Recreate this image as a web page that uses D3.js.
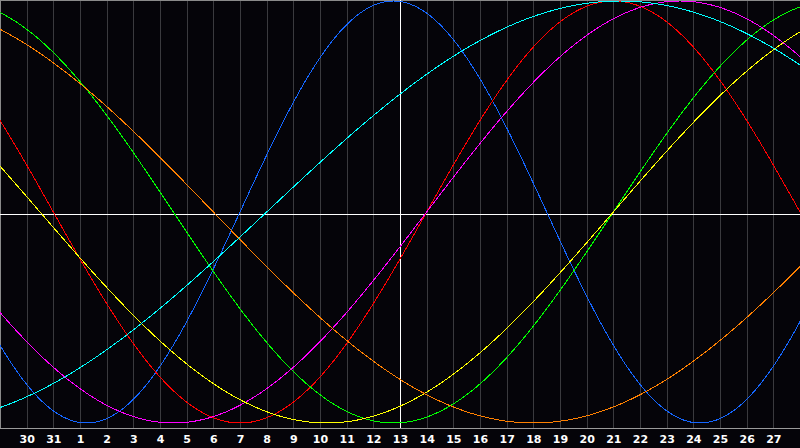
<!DOCTYPE html>
<html><head><meta charset="utf-8">
<script src="https://cdn.jsdelivr.net/npm/d3@7"></script>
<style>html,body{margin:0;padding:0;background:#050409;overflow:hidden}</style>
</head><body>
<script>
// Day labels along the bottom axis (day index 1..29)
const dayLabels = ["30","31","1","2","3","4","5","6","7","8","9","10","11","12","13","14","15","16","17","18","19","20","21","22","23","24","25","26","27"];
const todayIndex = 15; // label "13"
// Biorhythm cycles: names, periods (days), upward zero-crossing day index
const cycleNames   = ["Physical","Emotional","Intellectual","Intuitive","Aesthetic","Awareness","Spiritual"];
const cyclePeriods = [23, 28, 33, 38, 43, 48, 53];
const cyclePhases  = [9, 16, 23, 16, 23, 32, 10];
const cycleColors  = ["#1466ff","#ff0000","#00ff00","#ff00ff","#ffff00","#ff8000","#00ffff"];

const W = 800, H = 448, plotBottom = 428;
const svg = d3.select("body").append("svg").attr("width", W).attr("height", H)
  .style("display","block");
svg.append("rect").attr("width",W).attr("height",H).attr("fill","#050409");

const x = d3.scaleLinear().domain([0, 30]).range([0, W]);
const y = d3.scaleLinear().domain([-1, 1]).range([423, 1]);

// vertical grid
svg.append("g").selectAll("line").data(d3.range(1, 30)).join("line")
  .attr("x1", d => Math.round(x(d)) + 0.5).attr("x2", d => Math.round(x(d)) + 0.5)
  .attr("y1", 0).attr("y2", plotBottom)
  .attr("stroke", "#3a3a3e").attr("stroke-width", 1).attr("shape-rendering","crispEdges");

// borders
svg.append("line").attr("x1",0.5).attr("x2",0.5).attr("y1",0).attr("y2",plotBottom+1)
  .attr("stroke","#8a8a8a").attr("shape-rendering","crispEdges");
svg.append("line").attr("x1",0).attr("x2",W).attr("y1",0.5).attr("y2",0.5)
  .attr("stroke","#8a8a8a").attr("shape-rendering","crispEdges");
svg.append("line").attr("x1",0).attr("x2",W).attr("y1",plotBottom+0.5).attr("y2",plotBottom+0.5)
  .attr("stroke","#9a9a9a").attr("shape-rendering","crispEdges");

// axis labels
const axis = d3.axisBottom(x).tickValues(d3.range(1, 30))
  .tickFormat(d => dayLabels[d - 1]).tickSize(0).tickPadding(0);
const ag = svg.append("g").attr("transform", `translate(0,${plotBottom})`).call(axis);
ag.select(".domain").remove();
ag.selectAll("text").attr("fill","#ffffff").attr("dy", 0).attr("y", 15)
  .style("font-family","'DejaVu Sans', Verdana, sans-serif").style("font-weight","bold").style("font-size","11px");

// white midline & today line
svg.append("line").attr("x1",0).attr("x2",W).attr("y1",214.5).attr("y2",214.5)
  .attr("stroke","#ffffff").attr("shape-rendering","crispEdges");
svg.append("line").attr("x1",Math.round(x(todayIndex))+0.5).attr("x2",Math.round(x(todayIndex))+0.5)
  .attr("y1",0).attr("y2",plotBottom)
  .attr("stroke","#ffffff").attr("shape-rendering","crispEdges");

// cycles
const ts = d3.range(0, 30.001, 0.05);
const line = d3.line().x(d => x(d[0])).y(d => y(d[1]));
cycleNames.forEach((name, i) => {
  const pts = ts.map(t => [t, Math.sin(2 * Math.PI * (t - cyclePhases[i]) / cyclePeriods[i])]);
  svg.append("path").datum(pts).attr("d", line)
    .attr("fill","none").attr("stroke", cycleColors[i]).attr("stroke-width",1)
    .attr("shape-rendering","crispEdges");
});
</script>
</body></html>
